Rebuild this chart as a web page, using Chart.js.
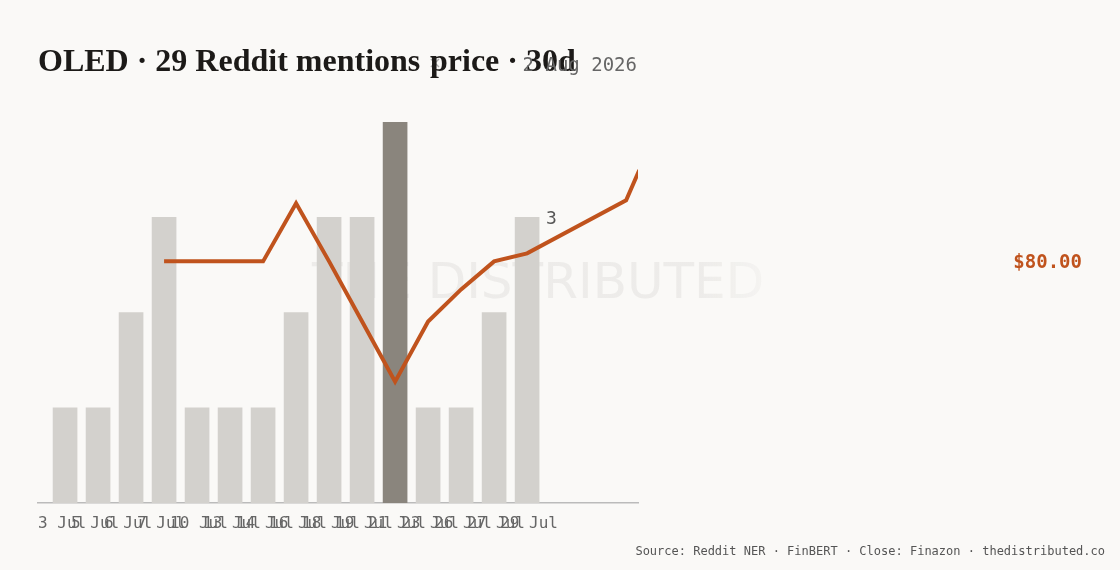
<!DOCTYPE html>
<html>
<head>
<meta charset="utf-8">
<script src="https://cdn.jsdelivr.net/npm/chart.js@4"></script>
<style>
  body { margin: 0; background: #faf9f7; }
  #wrap { width: 1120px; height: 570px; position: relative; }
</style>
</head>
<body>
<div id="wrap"><canvas id="chart" width="1120" height="570"></canvas></div>
<script>
const days = ['3 Jul','5 Jul','6 Jul','7 Jul','10 Jul','13 Jul','14 Jul','16 Jul','18 Jul','19 Jul','21 Jul','23 Jul','26 Jul','27 Jul','29 Jul']
const mentions = [1,1,2,3,1,1,1,2,3,3,4,1,1,2,3]
const priceX = [3,4,5,6,7,8,9,10,11,12,13,14,17,17.4]
const prices = [80,80,80,80,81.74,80.0,78.2,76.4,78.2,79.16,80,80.24,81.83,82.73]
const peakIndex = 10

const bars = mentions.map((v, i) => ({x: i, y: v}))
const line = prices.map((v, i) => ({x: priceX[i], y: v}))

const mono = '"DejaVu Sans Mono", monospace'

const decor = {
    id: 'decor',
    beforeDatasetsDraw(chart) {
        const c = chart.ctx
        c.save()
        const g = c.createLinearGradient(310, 0, 800, 0)
        g.addColorStop(0, 'rgba(200,198,194,0.25)')
        g.addColorStop(0.8, 'rgba(200,198,194,0.25)')
        g.addColorStop(1, 'rgba(200,198,194,0)')
        c.fillStyle = g
        c.font = '50px "DejaVu Sans"'
        c.textAlign = 'left'
        c.textBaseline = 'middle'
        c.fillText('THE DISTRIBUTED', 312, 285)
        c.restore()
    },
    afterDraw(chart) {
        const c = chart.ctx
        const x = chart.scales.x, y = chart.scales.y, y2 = chart.scales.y2
        c.save()
        c.font = 'bold 32px "Liberation Serif", serif'
        c.fillStyle = '#1c1a18'
        c.textBaseline = 'alphabetic'
        c.textAlign = 'left'
        c.fillText('OLED · 29 Reddit mentions', 38, 71)
        let w = c.measureText('OLED · 29 Reddit mentions ').width
        c.font = '16px "DejaVu Sans"'
        c.fillStyle = '#aaa'
        c.fillText('×', 38 + w, 68)
        c.font = 'bold 32px "Liberation Serif", serif'
        c.fillStyle = '#1c1a18'
        c.fillText('price · 30d', 430, 71)
        c.font = '19px ' + mono
        c.fillStyle = '#666'
        c.textAlign = 'right'
        c.fillText('2 Aug 2026', 637, 71)

        c.font = '16px ' + mono
        c.fillStyle = '#666'
        c.textAlign = 'left'
        days.forEach((d, i) => c.fillText(d, x.getPixelForValue(i) - 27, 528))

        c.fillStyle = '#555'
        c.font = '18px ' + mono
        c.fillText(String(mentions[14]), x.getPixelForValue(14) + 19, y.getPixelForValue(mentions[14]) + 7)

        c.fillStyle = '#c0531d'
        c.font = 'bold 19px ' + mono
        c.textAlign = 'right'
        c.fillText('$80.00', 1082, y2.getPixelForValue(80) + 7)

        c.fillStyle = '#555'
        c.font = '12px ' + mono
        c.fillText('Source: Reddit NER · FinBERT · Close: Finazon · thedistributed.co', 1105, 555)
        c.restore()
    }
}

new Chart(document.getElementById('chart'), {
    type: 'bar',
    data: {
        datasets: [{
            type: 'line',
            data: line,
            yAxisID: 'y2',
            borderColor: '#c0531d',
            borderWidth: 4,
            pointRadius: 0,
            tension: 0,
            order: 0
        }, {
            data: bars,
            backgroundColor: mentions.map((v, i) => i === peakIndex ? '#8a857d' : '#d3d1cd'),
            barThickness: 24,
            order: 1
        }]
    },
    options: {
        responsive: false,
        animation: false,
        layout: { padding: { left: 38, right: 482, top: 122, bottom: 59 } },
        plugins: { legend: { display: false }, tooltip: { enabled: false } },
        scales: {
            x: {
                type: 'linear', min: -0.82, max: 17.36, offset: false,
                ticks: { display: false },
                grid: { display: false },
                border: { color: '#bbb', width: 1.5 }
            },
            y: { min: 0, max: 4, display: false },
            y2: { min: 72.77, max: 84.17, display: false }
        }
    },
    plugins: [decor]
});
</script>
</body>
</html>
